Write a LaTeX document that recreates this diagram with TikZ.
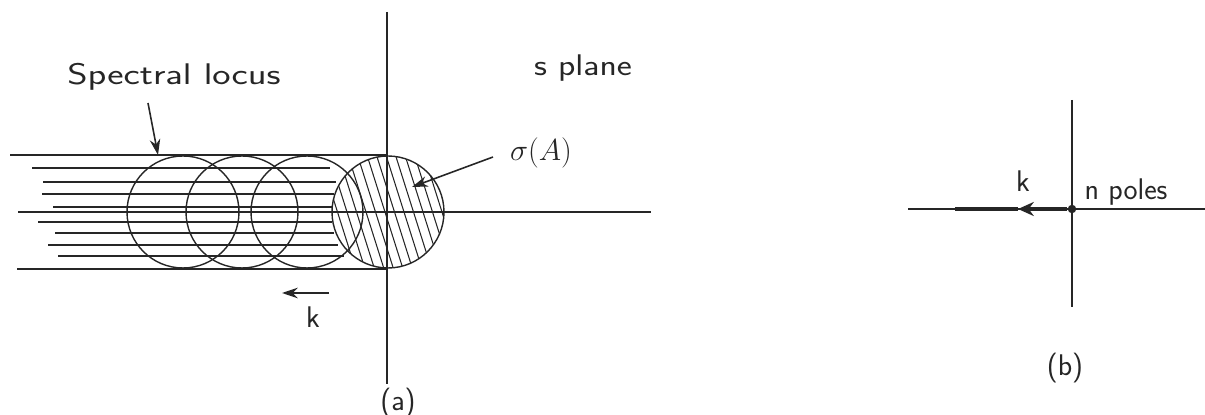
\documentclass[tikz,border=0pt]{standalone}
\usepackage{amsmath,amssymb}
\usepackage{tikz}
\usetikzlibrary{arrows.meta,positioning,calc}
\definecolor{scanInk}{HTML}{262626}

\begin{document}
\begin{tikzpicture}[x=0.02cm,y=-0.02cm,font=\sffamily\fontsize{17}{20}\selectfont,
    color=scanInk,
    axis/.style={line width=0.7pt},
    locusline/.style={line width=0.6pt},
    loop/.style={circle,draw,line width=0.8pt,minimum size=2.24cm,inner sep=0pt},
    hatch/.style={line width=0.6pt},
    pointer/.style={line width=0.9pt,-{Stealth[length=9pt,width=6pt]}},
    label/.style={inner sep=1pt}]
  \useasboundingbox (0,0) rectangle (1205,415);

  % (a) horizontal lines of the locus
  \draw[locusline] (10,155) -- (388,155);
  \draw[locusline] (17,269) -- (388,269);
  \foreach \yy/\xl/\xr in {168/32/330,182/43/336,194/42/334,207/53/332,
                           222/38/332,233/55/334,245/48/338,256/58/344}
    \draw[locusline] (\xl,\yy) -- (\xr,\yy);

  % (a) circles, the last one hatched
  \node[loop] (circA) at (183,212) {};
  \node[loop] (circB) at (242,212) {};
  \node[loop] (circC) at (307,212) {};
  \begin{scope}
    \clip (388,212) circle[radius=56];
    \foreach \hx in {290,299.5,...,490}
      \draw[hatch] (\hx-19,152) -- (\hx+19,272);
  \end{scope}
  \node[loop] (sigmaCirc) at (388,212) {};

  % (a) axes
  \draw[axis] (18,212) -- (651,212);
  \draw[axis] (387,12) -- (387,384);

  % (a) labels and pointers
  \node[label] (spec) at (174,77) {\scalebox{1.3}[1]{Spectral locus}};
  \coordinate (specTail) at (148,103);
  \coordinate (specTip) at (158,155);
  \draw[pointer] (specTail) -- (specTip);

  \node[label] (splane) at (583,68) {\scalebox{1.2}[1]{s plane}};

  \node[label] (sigma) at (541,153) {$\sigma(A)$};
  \coordinate (sigmaTail) at (493,157);
  \coordinate (sigmaTip) at (412,187);
  \draw[pointer] (sigmaTail) -- (sigmaTip);

  \coordinate (kaTail) at (329,293);
  \coordinate (kaTip) at (282,293);
  \draw[pointer] (kaTail) -- (kaTip);
  \node[label] (ka) at (313,317) {k};

  \node[label] (capA) at (398,403) {(a)};

  % (b) axes and the n poles at the origin
  \draw[axis] (908,209) -- (1205,209);
  \draw[axis] (1072,100) -- (1072,307);
  \node[circle,fill,inner sep=0pt,minimum size=0.17cm] (pole) at (1072,209) {};
  \coordinate (kbTip) at (1018,209);
  \coordinate (rootEnd) at (955,209);
  \draw[line width=2pt,-{Stealth[length=9pt,width=8pt]}] (pole) -- (kbTip);
  \draw[line width=2pt] (kbTip) -- (rootEnd);

  \node[label] (kb) at (1023,181) {k};
  \node[label] (poles) at (1126,192) {n poles};
  \node[label] (capB) at (1065,368) {(b)};
\end{tikzpicture}
\end{document}
